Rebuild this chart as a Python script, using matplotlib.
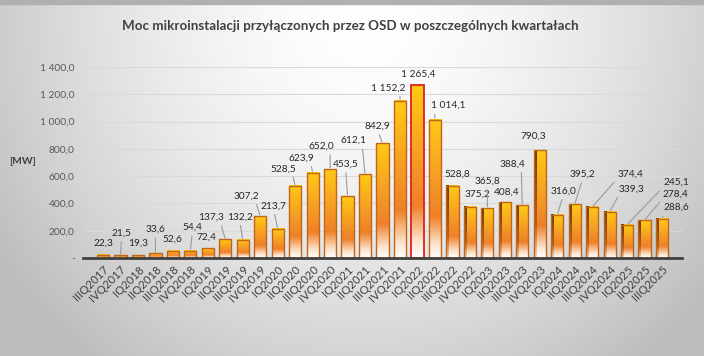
import numpy as np
import matplotlib
matplotlib.use("Agg")
import matplotlib.pyplot as plt
from matplotlib.colors import LinearSegmentedColormap
from matplotlib.patches import Rectangle

plt.rcParams['font.family'] = ['Lato', 'DejaVu Sans']

# dane
kwartaly = ['IIIQ2017', 'IVQ2017',
            'IQ2018', 'IIQ2018', 'IIIQ2018', 'IVQ2018',
            'IQ2019', 'IIQ2019', 'IIIQ2019', 'IVQ2019',
            'IQ2020', 'IIQ2020', 'IIIQ2020', 'IVQ2020',
            'IQ2021', 'IIQ2021', 'IIIQ2021', 'IVQ2021',
            'IQ2022', 'IIQ2022', 'IIIQ2022', 'IVQ2022',
            'IQ2023', 'IIQ2023', 'IIIQ2023', 'IVQ2023',
            'IQ2024', 'IIQ2024', 'IIIQ2024', 'IVQ2024',
            'IQ2025', 'IIQ2025', 'IIIQ2025']
moc = [22.3, 21.5, 19.3, 33.6, 52.6, 54.4, 72.4, 137.3, 132.2, 307.2,
       213.7, 528.5, 623.9, 652.0, 453.5, 612.1, 842.9, 1152.2, 1265.4, 1014.1,
       528.8, 375.2, 365.8, 408.4, 388.4, 790.3, 316.0, 395.2, 374.4, 339.3,
       245.1, 278.4, 288.6]
y_ticks = [0, 200, 400, 600, 800, 1000, 1200, 1400]

# przesuniecia etykiet (piksele) - jak w oryginale
etyk_dx = [0, 1, 0, 0, 0, 2, -1, -14, -3, -14, -4, -12, -11, -9, -2, -12, -5, -12,
           1, 13, 5, 8, 0, 2, -10, -7, 6, 8, 38, 22, 49, 31, 14]
etyk_dy = [12, 22, 12, 24, 12, 23, 11, 22, 23, 20, 23, 17, 15, 23, 32, 34, 17, 13,
           11, 14, 12, 13, 27, 10, 41, 14, 24, 30, 33, 23, 42, 26, 11]


def fmt(v):
    if v == 0:
        return '-'
    return f'{v:,.1f}'.replace(',', ' ').replace('.', ',')


W, H = 704, 356
fig = plt.figure(figsize=(W / 100, H / 100), dpi=100)

# tlo - gradient
bg = fig.add_axes([0, 0, 1, 1])
xx, yy = np.meshgrid(np.linspace(0, 1, 352), np.linspace(0, 1, 178))
d = np.sqrt(((xx - 0.52) / 0.62) ** 2 + ((yy - 0.05) / 1.25) ** 2)
t = np.clip(d, 0, 1) ** 1.6
g = 1.0 - 0.26 * t
bg.imshow(np.dstack([g, g, g]), extent=(0, 1, 0, 1), aspect='auto', origin='upper')
bg.axhspan(0.99, 1.0, color='#B0B0B0')
bg.set_xlim(0, 1)
bg.set_ylim(0, 1)
bg.axis('off')

ax = fig.add_axes([83 / W, 98 / H, 599 / W, 191 / H])
ax.patch.set_alpha(0)
x = np.arange(len(moc))
szer = 0.70

front = LinearSegmentedColormap.from_list('front', [
    (0.0, '#FFFFFF'), (0.10, '#FCE3CC'), (0.30, '#EE8028'),
    (0.55, '#F59A26'), (1.0, '#FFCA14')])
bok = LinearSegmentedColormap.from_list('bok', [
    (0.0, '#F6D9BE'), (0.30, '#B8601A'), (1.0, '#6A3A0C')])
grad = np.linspace(0, 1, 256).reshape(-1, 1)

for i, v in enumerate(moc):
    x0 = i - szer / 2
    ax.imshow(grad, cmap=front, extent=(x0, x0 + szer, 0, v), origin='lower',
              aspect='auto', zorder=3, interpolation='bicubic')
    if i >= 20:
        ax.imshow(grad, cmap=bok, extent=(x0, x0 + 0.14, 0, v), origin='lower',
                  aspect='auto', zorder=3.5, interpolation='bicubic')
    kol = '#E02020' if v == max(moc) else '#C0651A'
    ax.add_patch(Rectangle((x0, 0), szer, v, fill=False, edgecolor=kol,
                           linewidth=1.3 if v == max(moc) else 1.0, zorder=4))

for i, v in enumerate(moc):
    dx, dy = etyk_dx[i], etyk_dy[i]
    lider = dy > 16 or abs(dx) > 9
    if dx < -8:
        rel = (0.85, 0.0)
    elif dx > 8:
        rel = (0.1, 0.3)
    else:
        rel = (0.5, 0.0)
    ax.annotate(fmt(v), xy=(i, v), xytext=(dx, dy), textcoords='offset pixels',
                ha='center', va='center', fontsize=7.3, color='#262626', zorder=6,
                arrowprops=dict(arrowstyle='-', color='#9A9A9A', lw=0.8,
                                shrinkA=1, shrinkB=1, relpos=rel) if lider else None)

ax.set_xlim(-1.145, 33.14)
ax.set_ylim(0, 1400)
ax.set_yticks(y_ticks)
ax.set_yticklabels([fmt(v) for v in y_ticks], fontsize=7.4, color='#595959')
ax.set_xticks(x)
ax.set_xticklabels(kwartaly, rotation=45, ha='right', va='top',
                   rotation_mode='anchor', fontsize=8.2, color='#404040')
ax.tick_params(axis='both', length=0, pad=6)
ax.tick_params(axis='x', pad=4)
ax.grid(axis='y', color='#D9D9D9', linewidth=0.8, zorder=0)
for s in ['top', 'right', 'left']:
    ax.spines[s].set_visible(False)
ax.spines['bottom'].set_color('#404040')
ax.spines['bottom'].set_linewidth(2)
ax.spines['bottom'].set_zorder(5)

fig.text(22 / W, 1 - 162 / H, '[MW]', fontsize=7.4, fontweight='bold',
         color='#404040', ha='center', va='center')
fig.text(350 / W, 1 - 26 / H,
         'Moc mikroinstalacji przyłączonych przez OSD w poszczególnych kwartałach',
         fontsize=9.6, fontweight='bold', color='#404040', ha='center', va='center')

fig.savefig('out.png', dpi=100)
